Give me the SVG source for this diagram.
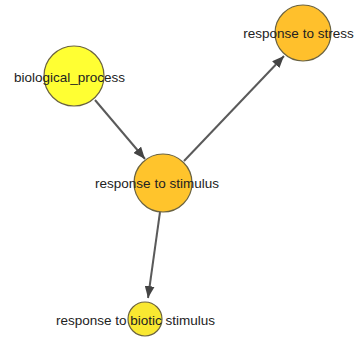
<svg xmlns="http://www.w3.org/2000/svg" width="357" height="338" viewBox="0 0 357 338">
<style>
.edge{stroke:#5a5a5a;stroke-width:2;fill:none}
.node{stroke:#6b6340;stroke-width:1.2}
.lbl{font-family:"Liberation Sans",Arial,sans-serif;font-size:13.5px;fill:#222;text-anchor:middle}
</style>
<defs>
<marker id="arr" viewBox="0 0 12 10" refX="12" refY="5" markerWidth="12" markerHeight="10" markerUnits="userSpaceOnUse" orient="auto">
<path d="M0,0 L12,5 L0,10 Z" fill="#444"/>
</marker>
</defs>
<rect width="357" height="338" fill="#fff"/>
<g id="connectors">
<line class="edge" x1="95" y1="100" x2="145" y2="159" marker-end="url(#arr)"/>
<line class="edge" x1="184" y1="161" x2="284" y2="56" marker-end="url(#arr)"/>
<line class="edge" x1="160" y1="212" x2="148" y2="298" marker-end="url(#arr)"/>
</g>
<g id="n_bio">
<circle class="node" cx="74" cy="76" r="30" fill="#ffff33"/>
<text class="lbl" x="69.5" y="82">biological_process</text>
</g>
<g id="n_stress">
<circle class="node" cx="303" cy="33" r="28" fill="#ffc02c"/>
<text class="lbl" x="298.5" y="38">response to stress</text>
</g>
<g id="n_stimulus">
<circle class="node" cx="163" cy="183" r="29" fill="#ffc42c"/>
<text class="lbl" x="157" y="188">response to stimulus</text>
</g>
<g id="n_biotic">
<circle class="node" cx="145" cy="319" r="17" fill="#f9e831"/>
<text class="lbl" x="135.5" y="325">response to biotic stimulus</text>
</g>
</svg>
